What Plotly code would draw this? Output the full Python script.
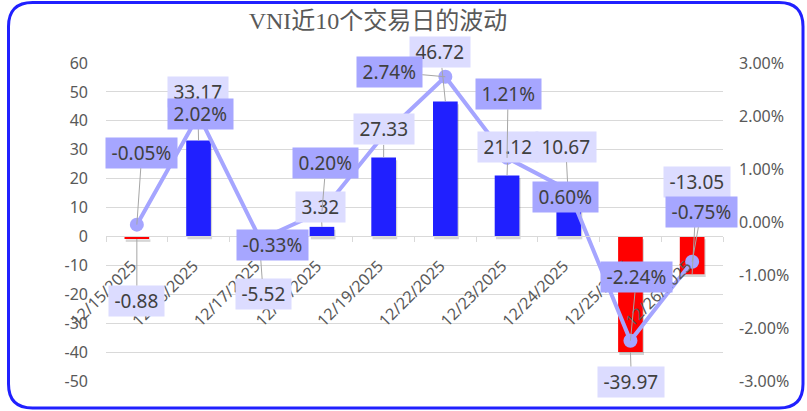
import plotly.graph_objects as go

# ---------------- data ----------------
dates = ["12/15/2025", "12/16/2025", "12/17/2025", "12/18/2025", "12/19/2025",
         "12/22/2025", "12/23/2025", "12/24/2025", "12/25/2025", "12/26/2025"]
change_pts = [-0.88, 33.17, -5.52, 3.32, 27.33, 46.72, 21.12, 10.67, -39.97, -13.05]
change_pct = [-0.05, 2.02, -0.33, 0.20, 1.64, 2.74, 1.21, 0.60, -2.24, -0.75]
pct_label_shown = [True, True, True, True, False, True, True, True, True, True]
left_ticks = [-50, -40, -30, -20, -10, 0, 10, 20, 30, 40, 50, 60]
right_ticks = [-3, -2, -1, 0, 1, 2, 3]
title_text = "VNI近10个交易日的波动"

# ---------------- styles / layout ----------------
W, H = 807, 411
ML, MR, MT, MB = 106, 84, 63, 30
PW, PH = W - ML - MR, H - MT - MB
BLUE = "#2020FF"
RED = "#FF0000"
LINE_C = "#A5A5FF"
LBL_LIGHT = "#DCDCFF"
LBL_DARK = "#A6A6FF"
GRID = "#D9D9D9"
TXT = "#595959"
FONT = "Noto Sans"
LBL_SIZE = 19
TICK_SIZE = 16

bar_off = [(0, 62), (-1, -49), (3, 42), (-1, -20), (0, -28), (-5, -49),
           (1, -28), (-3, -59), (1, 30), (5, -92)]
pct_off = [(5, -72), (2, -1), (12, 6), (4, -48), (0, 0), (-56, -5),
           (1, -64), (-3, 7), (6, -64), (9, -50)]

CHAR_EM = {"-": 0.322, ".": 0.268, "%": 0.838}


def text_w(s):
    return sum(CHAR_EM.get(c, 0.572) for c in s) * LBL_SIZE


bar_colors = [BLUE if v >= 0 else RED for v in change_pts]

fig = go.Figure()

# soft shadow under bars
fig.add_trace(go.Bar(
    x=dates, y=change_pts, base=-1.0, width=0.4, offset=-0.18,
    marker=dict(color="rgba(0,0,0,0.16)", line=dict(width=0)),
    hoverinfo="skip", showlegend=False,
))
fig.add_trace(go.Bar(
    x=dates, y=change_pts, width=0.4, offset=-0.2,
    marker=dict(color=bar_colors, line=dict(width=0)),
    showlegend=False, name="点数",
))
fig.add_trace(go.Scatter(
    x=dates, y=change_pct, yaxis="y2", mode="lines+markers",
    line=dict(color=LINE_C, width=4),
    marker=dict(color=LINE_C, size=14),
    showlegend=False, name="涨跌幅",
))


def label(x, y, yref, text, off, bg):
    return dict(
        x=x, y=y, xref="x", yref=yref, text=text,
        showarrow=True, arrowhead=0, arrowwidth=1, arrowcolor="#A6A6A6",
        ax=off[0], ay=off[1], bgcolor=bg, borderpad=2,
        width=text_w(text) + 7, height=26,
        font=dict(family=FONT, size=LBL_SIZE, color="#404040"),
    )


annotations = []
for i, (d, v) in enumerate(zip(dates, change_pts)):
    annotations.append(label(d, v, "y", f"{v:.2f}", bar_off[i], LBL_LIGHT))
for i, (d, p) in enumerate(zip(dates, change_pct)):
    if pct_label_shown[i]:
        annotations.append(label(d, p, "y2", f"{p:.2f}%", pct_off[i], LBL_DARK))


def P(px, py):
    return f"{(px - ML) / PW:.5f},{(H - MB - py) / PH:.5f}"


x0, x1, y0, y1, r = 8.5, 803, 2.5, 408, 24
border_path = (
    f"M{P(x0 + r, y0)} L{P(x1 - r, y0)} Q{P(x1, y0)} {P(x1, y0 + r)} "
    f"L{P(x1, y1 - r)} Q{P(x1, y1)} {P(x1 - r, y1)} "
    f"L{P(x0 + r, y1)} Q{P(x0, y1)} {P(x0, y1 - r)} "
    f"L{P(x0, y0 + r)} Q{P(x0, y0)} {P(x0 + r, y0)} Z"
)

ymin, ymax = left_ticks[0], left_ticks[-1]

fig.update_layout(
    width=W, height=H,
    margin=dict(l=ML, r=MR, t=MT, b=MB),
    paper_bgcolor="white", plot_bgcolor="white",
    barmode="overlay",
    title=dict(
        text=title_text, x=378 / W, xref="container", xanchor="center",
        y=1 - 21 / H, yref="container", yanchor="middle",
        font=dict(family="Liberation Serif, Noto Sans CJK SC", size=24, color=TXT),
    ),
    xaxis=dict(
        type="category", anchor="free", position=(0 - ymin) / (ymax - ymin),
        range=[-0.5, len(dates) - 0.5],
        showline=True, linecolor=GRID, linewidth=1,
        ticks="outside", tickson="boundaries", ticklen=5, tickcolor=GRID,
        tickangle=-45, tickfont=dict(family=FONT, size=TICK_SIZE, color=TXT),
        ticklabelstandoff=13, ticklabelshift=-5,
        showgrid=False, zeroline=False,
    ),
    yaxis=dict(
        range=[ymin, ymax], tickvals=left_ticks,
        ticktext=[str(v) for v in left_ticks],
        showgrid=True, gridcolor=GRID, gridwidth=1, zeroline=False,
        tickfont=dict(family=FONT, size=TICK_SIZE, color=TXT),
        ticklabelstandoff=17,
    ),
    yaxis2=dict(
        overlaying="y", side="right", range=[right_ticks[0], right_ticks[-1]],
        tickvals=right_ticks, ticktext=[f"{v:.2f}%" for v in right_ticks],
        showgrid=False, zeroline=False,
        tickfont=dict(family=FONT, size=TICK_SIZE, color=TXT),
        ticklabelstandoff=15,
    ),
    annotations=annotations,
    shapes=[dict(type="path", xref="paper", yref="paper", path=border_path,
                 line=dict(color=BLUE, width=3), layer="above")],
    hovermode=False,
)

fig.write_html(
    "out.html",
    config={"displayModeBar": False},
    post_script="document.body.style.margin='0px';document.body.style.overflow='hidden';",
)
